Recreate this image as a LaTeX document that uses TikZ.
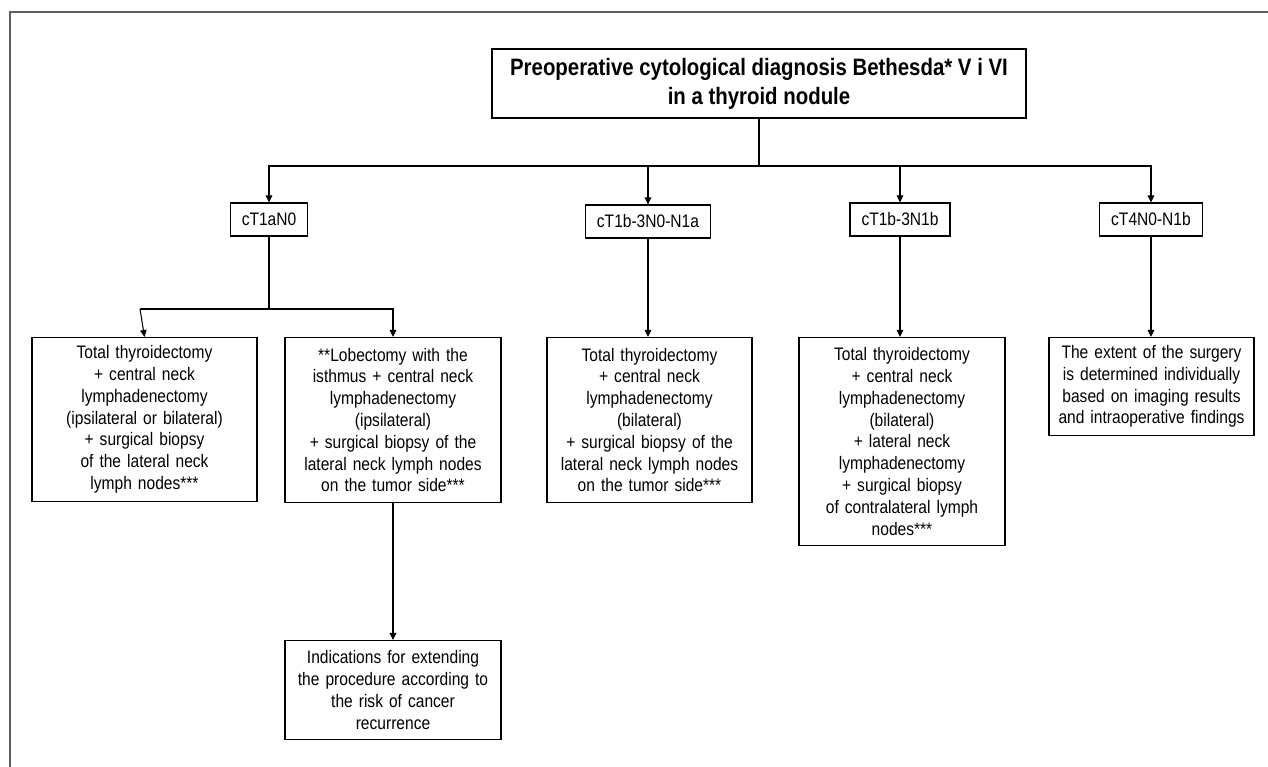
\documentclass[tikz,border=0pt]{standalone}
\usepackage{fontspec}
\setmainfont{Liberation Sans}[FakeStretch=0.86]
\definecolor{framegray}{RGB}{95, 95, 95}
\usetikzlibrary{arrows.meta}

\begin{document}
\begin{tikzpicture}[
  stagebox/.style={draw, line width=0.6pt, minimum height=0.66cm, inner xsep=0.23cm, font=\fontsize{10.3}{12.4}\selectfont},
  treatbox/.style={draw, line width=0.6pt, anchor=north, align=center, inner xsep=0.1cm, inner ysep=0pt, font=\fontsize{10.3}{12.4}\selectfont},
  link/.style={line width=0.6pt},
  arr/.style={line width=0.6pt, -{Triangle[length=1.4mm, width=1.3mm]}}
]
  \useasboundingbox (0, 0) rectangle (25.36, -15.34);

  % frame
  \draw[framegray, line width=0.8pt] (0.2, -15.34) -- (0.2, -0.24) -- (25.36, -0.24);

  % Title
  \node[draw, line width=0.6pt, minimum width=10.68cm, minimum height=1.38cm, align=center, font=\fontsize{13.5}{16.5}\selectfont\bfseries] (title) at (15.18, -1.67) {
    Preoperative cytological diagnosis Bethesda* V i VI\\
    in a thyroid nodule
  };

  % Stages
  \node[stagebox] (t1a) at (5.38, -4.39) {cT1aN0};
  \node[stagebox] (t1bN0) at (12.96, -4.43) {cT1b-3N0-N1a};
  \node[stagebox] (t1bN1b) at (18.0, -4.39) {cT1b-3N1b};
  \node[stagebox] (t4) at (23.02, -4.39) {cT4N0-N1b};

  % Treatments
  \node[treatbox, text width=4.3cm, minimum height=3.28cm] (total1) at (2.89, -6.74) {
    Total thyroidectomy\\
    + central neck\\
    lymphadenectomy\\
    (ipsilateral or bilateral)\\
    + surgical biopsy\\
    of the lateral neck\\
    lymph nodes***
  };
  \node[treatbox, text width=4.12cm, minimum height=3.3cm] (lobe) at (7.86, -6.74) {
    **Lobectomy with the\\
    isthmus + central neck\\
    lymphadenectomy\\
    (ipsilateral)\\
    + surgical biopsy of the\\
    lateral neck lymph nodes\\
    on the tumor side***
  };
  \node[treatbox, text width=3.9cm, minimum height=3.3cm] (total2) at (12.99, -6.74) {
    Total thyroidectomy\\
    + central neck\\
    lymphadenectomy\\
    (bilateral)\\
    + surgical biopsy of the\\
    lateral neck lymph nodes\\
    on the tumor side***
  };
  \node[treatbox, text width=3.92cm, minimum height=4.16cm] (total3) at (18.04, -6.74) {
    Total thyroidectomy\\
    + central neck\\
    lymphadenectomy\\
    (bilateral)\\
    + lateral neck\\
    lymphadenectomy\\
    + surgical biopsy\\
    of contralateral lymph\\
    nodes***
  };
  \node[treatbox, text width=3.9cm, minimum height=1.96cm] (extent) at (23.03, -6.74) {
    The extent of the surgery\\
    is determined individually\\
    based on imaging results\\
    and intraoperative findings
  };

  % Follow-up
  \node[treatbox, text width=4.12cm, minimum height=1.98cm] (indic) at (7.86, -12.8) {
    Indications for extending\\
    the procedure according to\\
    the risk of cancer\\
    recurrence
  };

  % Connectors
  \coordinate (fork) at (15.18, -3.32);
  \coordinate (t1afork) at (5.38, -6.18);
  \coordinate (leftend) at (2.8, -6.18);

  \draw[link] (title) -- (fork);
  \draw[arr] (fork) -| (t1a);
  \draw[arr] (fork) -| (t1bN0);
  \draw[arr] (fork) -| (t1bN1b);
  \draw[arr] (fork) -| (t4);

  \draw[link] (t1a) -- (t1afork) -- (leftend);
  \draw[arr] (leftend) -- (total1.north);
  \draw[arr] (t1afork) -| (lobe);
  \draw[arr] (t1bN0) -- (t1bN0 |- total2.north);
  \draw[arr] (t1bN1b) -- (t1bN1b |- total3.north);
  \draw[arr] (t4) -- (t4 |- extent.north);
  \draw[arr] (lobe) -- (indic);
\end{tikzpicture}
\end{document}
